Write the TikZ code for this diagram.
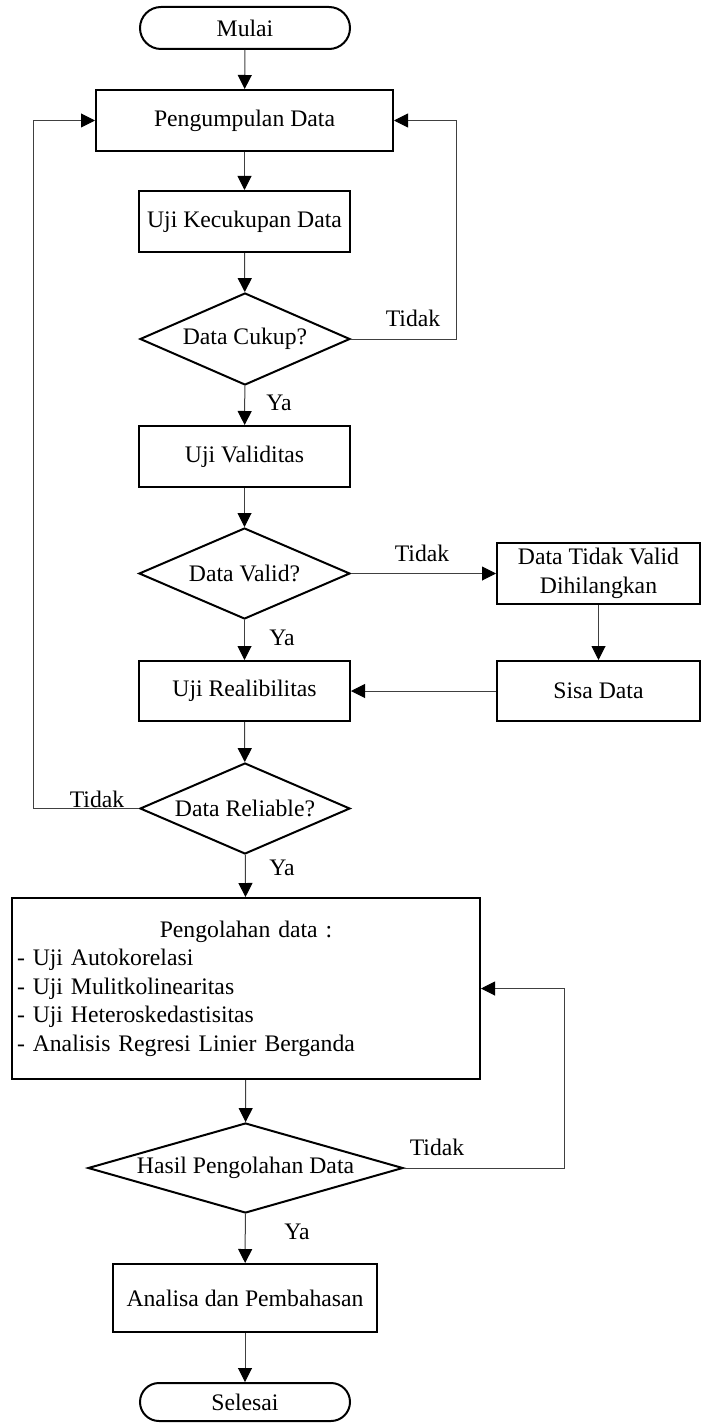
\documentclass[tikz,border=0pt]{standalone}
\usepackage{fontspec}
\setmainfont{Liberation Serif}
\usetikzlibrary{arrows.meta,positioning,shapes.geometric}
\tikzset{
  chartlabel/.style={font=\fontsize{23.7}{28.5}\selectfont, text=black},
  chartbox/.style={draw=black, line width=2pt, fill=white, inner sep=5pt},
  procbox/.style={chartbox, rectangle},
  termbox/.style={chartbox, rectangle, rounded corners=21pt, minimum width=210pt, minimum height=42pt},
  decbox/.style={chartbox, diamond, inner sep=0pt, shape aspect=2.3},
  chartline/.style={line width=1pt, draw=black!75},
  chartarrow/.style={chartline, -{Triangle[length=14pt,width=14pt,black]}}
}

\begin{document}
\begin{tikzpicture}[x=1pt, y=-1pt, every node/.style={chartlabel}]
\useasboundingbox (0,0) rectangle (701,1423);
% main column
\node[termbox] (mulai) at (245,28) {Mulai};
\node[procbox, minimum width=297pt, minimum height=61pt] (kumpul) at (244.5,120.5) {Pengumpulan Data};
\node[procbox, minimum width=211pt, minimum height=61pt] (cukup) at (244.5,221.5) {Uji Kecukupan Data};
\node[decbox, minimum width=210pt, minimum height=92pt] (dcukup) at (245,339) {Data Cukup?};
\node[procbox, minimum width=211pt, minimum height=61pt] (valid) at (244.5,456.5) {Uji Validitas};
\node[decbox, minimum width=211pt, minimum height=91pt] (dvalid) at (244.5,573.5) {Data Valid?};
\node[procbox, minimum width=211pt, minimum height=60pt] (reali) at (244.5,691) {Uji Realibilitas};
\node[decbox, minimum width=210pt, minimum height=91pt] (dreliable) at (245,808.5) {Data Reliable?};
\node[procbox, minimum width=468pt, minimum height=181pt, text width=458pt, align=left] (olah) at (246,988.5)
  {\makebox[458pt]{Pengolahan data :}\\- Uji Autokorelasi\\- Uji Mulitkolinearitas\\- Uji Heteroskedastisitas\\- Analisis Regresi Linier Berganda};
\node[decbox, shape aspect=3.5, minimum width=315pt, minimum height=90pt] (dhasil) at (245.5,1168) {Hasil Pengolahan Data};
\node[procbox, minimum width=264pt, minimum height=68pt] (analisa) at (245,1298) {Analisa dan Pembahasan};
\node[termbox, minimum height=38pt, rounded corners=19pt] (selesai) at (245,1402) {Selesai};
% right column
\node[procbox, minimum width=203pt, minimum height=61pt, align=center] (hilang) at (598.5,573.5) {Data Tidak Valid\\Dihilangkan};
\node[procbox, minimum width=203pt, minimum height=60pt] (sisa) at (598.5,691) {Sisa Data};

% connectors
\draw[chartarrow] (mulai) -- (kumpul);
\draw[chartarrow] (kumpul) -- (cukup);
\draw[chartarrow] (cukup) -- (dcukup);
\draw[chartarrow] (dcukup) -- (valid);
\draw[chartarrow] (dcukup.east) -- ++(105,0) |- (kumpul.east);
\draw[chartarrow] (valid) -- (dvalid);
\draw[chartarrow] (dvalid) -- (reali);
\draw[chartarrow] (dvalid) -- (hilang);
\draw[chartarrow] (hilang) -- (sisa);
\draw[chartarrow] (sisa) -- (reali);
\draw[chartarrow] (reali) -- (dreliable);
\draw[chartarrow] (dreliable.west) -- ++(-106,0) |- (kumpul.west);
\draw[chartarrow] (dreliable) -- (olah);
\draw[chartarrow] (olah) -- (dhasil);
\draw[chartarrow] (dhasil.east) -- ++(160,0) |- (olah.east);
\draw[chartarrow] (dhasil) -- (analisa);
\draw[chartarrow] (analisa) -- (selesai);

% branch labels
\node (ya1) at (279,403) {Ya};
\node (ya2) at (282,638) {Ya};
\node (ya3) at (282,868) {Ya};
\node (ya4) at (297,1232) {Ya};
\node (tidak1) at (413,318) {Tidak};
\node (tidak2) at (422,553) {Tidak};
\node (tidak3) at (97,799) {Tidak};
\node (tidak4) at (437,1147) {Tidak};
\end{tikzpicture}
\end{document}
